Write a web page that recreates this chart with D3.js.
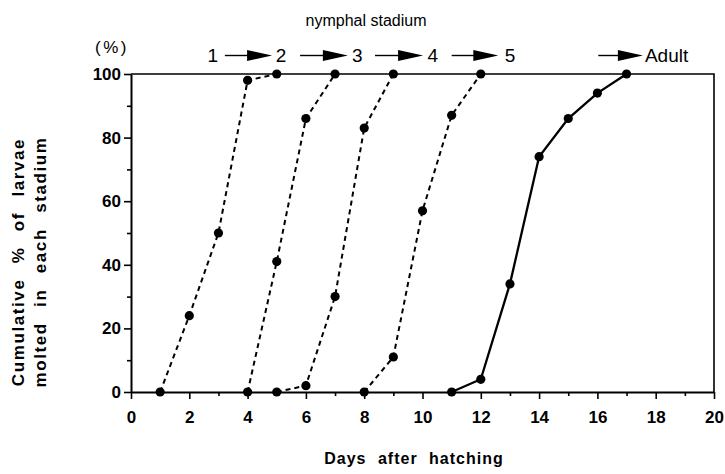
<!DOCTYPE html>
<html>
<head>
<meta charset="utf-8">
<script src="https://cdn.jsdelivr.net/npm/d3@7"></script>
<style>
  body { margin: 0; background: #fff; }
  svg { display: block; font-family: "Liberation Sans", Arial, sans-serif; }
</style>
</head>
<body>
<svg id="chart" width="725" height="474"></svg>
<script>
// ----------------------------
// Data
// ----------------------------
const stage1Days = [1, 2, 3, 4, 5];
const stage1Pct  = [0, 24, 50, 98, 100];

const stage2Days = [4, 5, 6, 7];
const stage2Pct  = [0, 41, 86, 100];

const stage3Days = [5, 6, 7, 8, 9];
const stage3Pct  = [0, 2, 30, 83, 100];

const stage4Days = [8, 9, 10, 11, 12];
const stage4Pct  = [0, 11, 57, 87, 100];

const adultDays = [11, 12, 13, 14, 15, 16, 17];
const adultPct  = [0, 4, 34, 74, 86, 94, 100];

const xMajorTicks = [0, 2, 4, 6, 8, 10, 12, 14, 16, 18, 20];
const xMinorTicks = [1, 3, 5, 7, 9, 11, 13, 15, 17, 19];
const yMajorTicks = [0, 20, 40, 60, 80, 100];
const yMinorTicks = [10, 30, 50, 70, 90];

// stadium annotations along the top: label, label day position
const stageLabels = ["1", "2", "3", "4", "5", "Adult"];
const stageLabelDays = [2.81, 5.15, 7.76, 10.35, 13.0, 17.63];
// arrows: start day, end day
const arrowStart = [3.22, 5.8, 8.37, 11.0, 16.03];
const arrowEnd   = [4.84, 7.44, 10.02, 12.6, 17.56];

// ----------------------------
// Layout
// ----------------------------
const svg = d3.select("#chart");
const margin = { top: 74, right: 11, bottom: 82, left: 131 };
const width = +svg.attr("width");
const height = +svg.attr("height");
const innerW = width - margin.left - margin.right;
const innerH = height - margin.top - margin.bottom;

const g = svg.append("g").attr("transform", `translate(${margin.left},${margin.top})`);

const x = d3.scaleLinear().domain([0, 20]).range([0, innerW]);
const y = d3.scaleLinear().domain([0, 100]).range([innerH, 0]);

// frame (top + right)
g.append("path")
  .attr("d", `M0,0H${innerW}V${innerH}`)
  .attr("fill", "none")
  .attr("stroke", "#000")
  .attr("stroke-width", 1.6);

// axes
const styleAxis = sel => {
  sel.select(".domain").attr("stroke-width", 2);
  sel.selectAll(".tick line").attr("stroke-width", 1.6);
  sel.selectAll("text")
    .attr("font-size", 17)
    .attr("font-weight", "bold")
    .attr("font-family", "'Liberation Sans', Arial, sans-serif")
    .attr("fill", "#000");
};

g.append("g")
  .attr("transform", `translate(0,${innerH})`)
  .call(d3.axisBottom(x).tickValues(xMinorTicks).tickSize(4).tickFormat(""))
  .call(s => s.select(".domain").remove())
  .call(styleAxis);

g.append("g")
  .attr("transform", `translate(0,${innerH})`)
  .call(d3.axisBottom(x).tickValues(xMajorTicks).tickSize(7).tickPadding(12).tickSizeOuter(0))
  .call(styleAxis);

g.append("g")
  .call(d3.axisLeft(y).tickValues(yMinorTicks).tickSize(4).tickFormat(""))
  .call(s => s.select(".domain").remove())
  .call(styleAxis);

g.append("g")
  .call(d3.axisLeft(y).tickValues(yMajorTicks).tickSize(7).tickPadding(3).tickSizeOuter(0))
  .call(styleAxis);

// ----------------------------
// Series
// ----------------------------
const series = [
  { days: stage1Days, pct: stage1Pct, dash: "5,4" },
  { days: stage2Days, pct: stage2Pct, dash: "5,4" },
  { days: stage3Days, pct: stage3Pct, dash: "5,4" },
  { days: stage4Days, pct: stage4Pct, dash: "5,4" },
  { days: adultDays,  pct: adultPct,  dash: null }
];

const line = d3.line().x(d => x(d[0])).y(d => y(d[1]));

series.forEach(s => {
  const pts = s.days.map((d, i) => [d, s.pct[i]]);
  g.append("path")
    .datum(pts)
    .attr("fill", "none")
    .attr("stroke", "#000")
    .attr("stroke-width", s.dash ? 2 : 2.3)
    .attr("stroke-dasharray", s.dash)
    .attr("d", line);
  g.selectAll(null)
    .data(pts)
    .enter().append("circle")
    .attr("cx", d => x(d[0]))
    .attr("cy", d => y(d[1]))
    .attr("r", 4.6)
    .attr("fill", "#000");
});

// ----------------------------
// Annotations
// ----------------------------
const annY = -18.5;

stageLabels.forEach((t, i) => {
  g.append("text")
    .attr("x", x(stageLabelDays[i]))
    .attr("y", annY)
    .attr("dy", "0.36em")
    .attr("text-anchor", t === "Adult" ? "start" : "middle")
    .attr("font-size", 19)
    .text(t);
});

arrowStart.forEach((a, i) => {
  const x1 = x(a), x2 = x(arrowEnd[i]);
  g.append("line")
    .attr("x1", x1).attr("x2", x2 - 20)
    .attr("y1", annY).attr("y2", annY)
    .attr("stroke", "#000")
    .attr("stroke-width", 1.4);
  g.append("path")
    .attr("d", `M${x2 - 25},${annY - 5.5}L${x2},${annY}L${x2 - 25},${annY + 5.5}Z`)
    .attr("fill", "#000");
});

svg.append("text")
  .attr("x", 366)
  .attr("y", 20)
  .attr("dy", "0.35em")
  .attr("text-anchor", "middle")
  .attr("font-size", 16)
  .text("nymphal stadium");

svg.append("text")
  .attr("x", 112)
  .attr("y", 47)
  .attr("dy", "0.35em")
  .attr("text-anchor", "middle")
  .attr("font-size", 17)
  .attr("letter-spacing", 2.5)
  .text("(%)");

// axis titles
svg.append("text")
  .attr("x", 414)
  .attr("y", 458)
  .attr("dy", "0.35em")
  .attr("text-anchor", "middle")
  .attr("font-size", 16)
  .attr("font-weight", "bold")
  .attr("letter-spacing", 1)
  .attr("word-spacing", 6)
  .text("Days after hatching");

const yTitle = svg.append("text")
  .attr("transform", "translate(0,262) rotate(-90)")
  .attr("text-anchor", "middle")
  .attr("font-size", 17)
  .attr("font-weight", "bold")
  .attr("letter-spacing", 1.6)
  .attr("word-spacing", 9);
yTitle.append("tspan").attr("x", 0).attr("y", 18).attr("dy", "0.35em").text("Cumulative % of larvae");
yTitle.append("tspan").attr("x", 0).attr("y", 40).attr("dy", "0.35em").text("molted in each stadium");
</script>
</body>
</html>
